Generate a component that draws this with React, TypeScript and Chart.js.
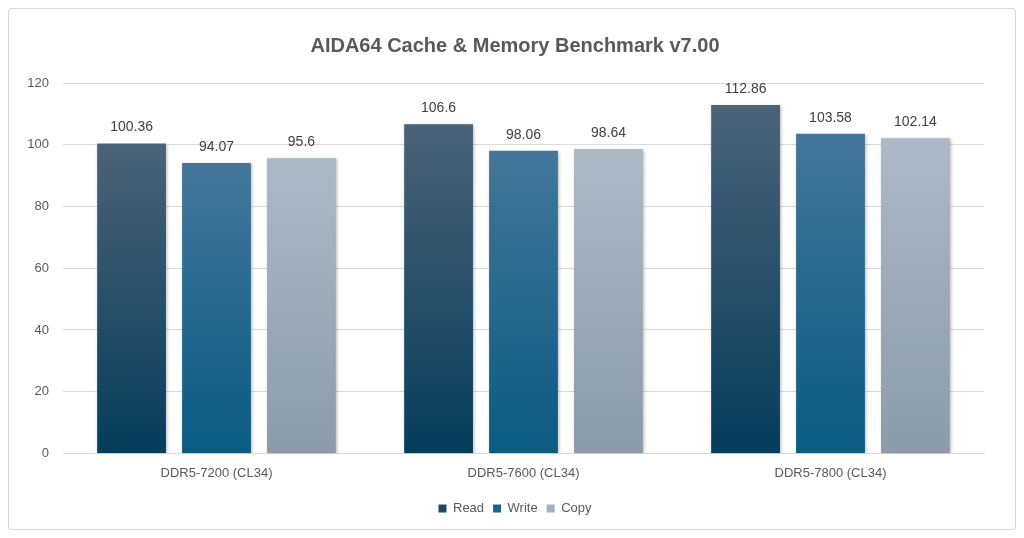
import React, { useEffect, useRef } from "react";
import { Chart, registerables } from "chart.js";

Chart.register(...registerables);

const categories = ["DDR5-7200 (CL34)", "DDR5-7600 (CL34)", "DDR5-7800 (CL34)"];
const readValues = [100.36, 106.6, 112.86];
const writeValues = [94.07, 98.06, 103.58];
const copyValues = [95.6, 98.64, 102.14];
const seriesNames = ["Read", "Write", "Copy"];
const yTicks = [0, 20, 40, 60, 80, 100, 120];
const title = "AIDA64 Cache & Memory Benchmark v7.00";

const gradStops = [
  ["#4b6378", "#053d5c"],
  ["#44769a", "#0a5b82"],
  ["#acb9c6", "#8c9baa"],
];
const legendColors = ["#1c4a67", "#1d6289", "#a4b2bf"];

const FONT = "'Liberation Sans', Arial, sans-serif";

function gradientFor(idx: number) {
  return (ctx: any) => {
    const chart = ctx.chart;
    const area = chart.chartArea;
    if (!area || ctx.type !== "data") return legendColors[idx];
    const yScale = chart.scales.y;
    const top = yScale.getPixelForValue(ctx.raw);
    const bottom = yScale.getPixelForValue(0);
    const g = chart.ctx.createLinearGradient(0, top, 0, bottom);
    g.addColorStop(0, gradStops[idx][0]);
    g.addColorStop(1, gradStops[idx][1]);
    return g;
  };
}

const labelPlugin = {
  id: "barLabels",
  afterDatasetsDraw(chart: any) {
    const ctx = chart.ctx;
    ctx.save();
    ctx.font = `14px ${FONT}`;
    ctx.fillStyle = "#404040";
    ctx.textAlign = "center";
    ctx.textBaseline = "bottom";
    chart.data.datasets.forEach((ds: any, i: number) => {
      const meta = chart.getDatasetMeta(i);
      meta.data.forEach((bar: any, j: number) => {
        ctx.fillText(String(ds.data[j]), bar.x, bar.y - 9);
      });
    });
    ctx.restore();
  },
};

const shadowPlugin = {
  id: "barShadow",
  beforeDatasetsDraw(chart: any) {
    const ctx = chart.ctx;
    ctx.save();
    ctx.shadowColor = "rgba(0,0,0,0.28)";
    ctx.shadowBlur = 3;
    ctx.shadowOffsetX = 1;
    ctx.shadowOffsetY = 1;
  },
  afterDatasetsDraw(chart: any) {
    chart.ctx.restore();
  },
};

export default function App() {
  const ref = useRef<HTMLCanvasElement | null>(null);
  useEffect(() => {
    if (!ref.current) return;
    const values = [readValues, writeValues, copyValues];
    const chart = new Chart(ref.current, {
      type: "bar",
      data: {
        labels: categories,
        datasets: seriesNames.map((name, i) => ({
          label: name,
          data: values[i],
          backgroundColor: gradientFor(i),
          borderWidth: 0,
          categoryPercentage: 0.83,
          barPercentage: 0.81,
          yAxisID: "y",
        })),
      },
      options: {
        animation: false,
        responsive: true,
        maintainAspectRatio: false,
        layout: { padding: { left: 6, right: 0, top: 0, bottom: 4 } },
        plugins: {
          title: {
            display: true,
            text: title,
            color: "#595959",
            font: { family: FONT, size: 20, weight: "bold" },
            padding: { top: 25, bottom: 25 },
          },
          legend: {
            position: "bottom",
            labels: {
              color: "#595959",
              font: { family: FONT, size: 13 },
              boxWidth: 8,
              boxHeight: 8,
              padding: 9,
              generateLabels: () =>
                seriesNames.map((n, i) => ({
                  text: n,
                  fillStyle: legendColors[i],
                  strokeStyle: legendColors[i],
                  lineWidth: 0,
                  hidden: false,
                  datasetIndex: i,
                  fontColor: "#595959",
                })),
            },
          },
          tooltip: { enabled: false },
        },
        scales: {
          x: {
            grid: { display: false, drawTicks: false },
            border: { display: true, color: "#d9d9d9" },
            ticks: {
              color: "#595959",
              font: { family: FONT, size: 13 },
              padding: 12,
            },
          },
          y: {
            min: 0,
            max: 120,
            afterBuildTicks: (axis: any) => {
              axis.ticks = yTicks.map((v) => ({ value: v }));
            },
            afterFit: (axis: any) => {
              axis.width = 48;
            },
            grid: { color: "#d9d9d9", drawTicks: false },
            border: { display: false },
            ticks: {
              color: "#595959",
              font: { family: FONT, size: 13 },
              padding: 14,
            },
          },
          yRight: {
            position: "right",
            display: true,
            grid: { display: false, drawTicks: false },
            border: { display: false },
            ticks: { display: false },
            afterFit: (axis: any) => {
              axis.width = 31;
            },
          },
        },
      },
      plugins: [shadowPlugin, labelPlugin],
    });
    return () => chart.destroy();
  }, []);

  return (
    <div
      style={{
        width: 1008,
        height: 522,
        boxSizing: "border-box",
        border: "1px solid #d9d9d9",
        borderRadius: 3,
        position: "relative",
        background: "#fff",
      }}
    >
      <canvas ref={ref} />
    </div>
  );
}
